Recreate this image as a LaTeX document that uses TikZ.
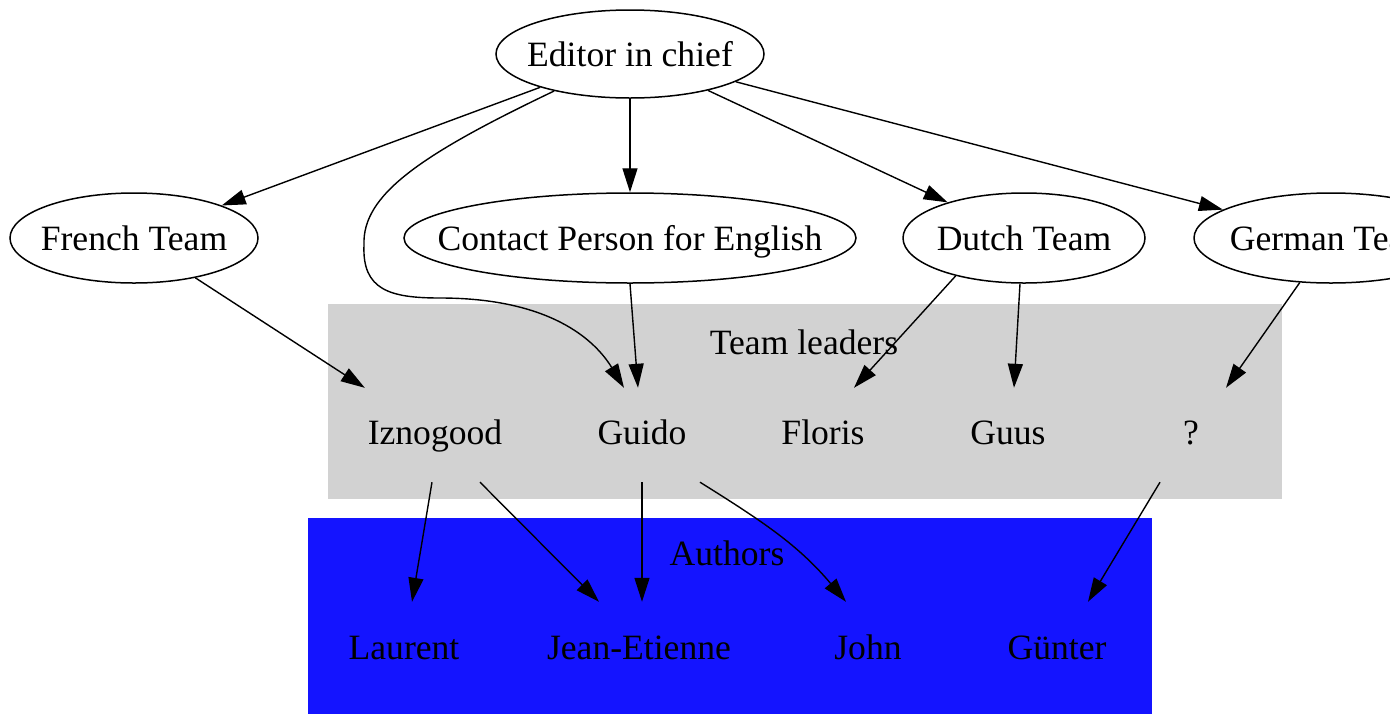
\documentclass[tikz,border=0pt]{standalone}
\usepackage{fontspec}
\setmainfont{Liberation Serif}
\usetikzlibrary{arrows.meta,shapes.geometric}
\def\tn#1{\makebox[0pt]{#1}}
\tikzset{
	team/.style={draw, ellipse, line width=1.5pt, inner sep=0pt, text height=24pt, text depth=0pt},
	member/.style={inner sep=0pt, minimum height=94pt, text height=24pt, text depth=6pt},
	author/.style={inner sep=0pt, minimum height=96pt, text height=24pt, text depth=6pt},
	edge/.style={line width=1.4pt, -{Triangle[length=24pt, width=15pt]}}
}

\begin{document}
\begin{tikzpicture}[x=1pt, y=-1pt, font=\fontsize{35.6}{40}\selectfont]
			%%%%% START %%%%%
			
			\useasboundingbox (0, 0) rectangle (1390, 713);
			\clip (0, 0) rectangle (1390, 713);
			
			\fill[gray!35] (328, 304) rectangle (1282, 499);
			\fill[blue!92!white] (308, 518) rectangle (1152, 720);
			\node (leaders) at (804, 342) {Team leaders};
			\node (authors) at (727, 553) {Authors};
			
			\node[team, minimum width=268pt, minimum height=88pt] (editor) at (630, 54) {\tn{Editor in chief}};
			\node[team, minimum width=248pt, minimum height=90pt] (french) at (134, 238) {\tn{French Team}};
			\node[team, minimum width=452pt, minimum height=90pt] (contact) at (630, 238) {\tn{Contact Person for English}};
			\node[team, minimum width=242pt, minimum height=90pt] (dutch) at (1024, 238) {\tn{Dutch Team}};
			\node[team, minimum width=274pt, minimum height=90pt] (german) at (1331, 238) {\tn{German Team}};
			
			\node[member, minimum width=140pt] (izno) at (435, 435) {Iznogood};
			\node[member, minimum width=100pt] (guido) at (642, 435) {Guido};
			\node[member, minimum width=100pt] (floris) at (823, 435) {Floris};
			\node[member, minimum width=100pt] (guus) at (1008, 435) {Guus};
			\node[member, minimum width=60pt] (qm) at (1191, 435) {?};
			
			\node[author] (laurent) at (404, 650) {Laurent};
			\node[author] (je) at (639, 650) {Jean-Etienne};
			\node[author] (john) at (868, 650) {John};
			\node[author] (guenter) at (1057, 650) {Günter};
			
			\draw[edge] (editor) -- (french);
			\draw[edge] (editor) -- (contact);
			\draw[edge] (editor) -- (dutch);
			\draw[edge] (editor) -- (german);
			\draw[edge] (editor.206) .. controls (420, 155) and (362, 195) .. (364, 245)
				.. controls (362, 290) and (390, 298) .. (440, 298)
				.. controls (550, 298) and (595, 340) .. ([xshift=-18pt]guido.north);
			
			\draw[edge] (french) -- (izno.north west);
			\draw[edge] (contact.south) -- ([xshift=-4pt]guido.north);
			\draw[edge] (dutch.209) -- ([xshift=31pt]floris.north);
			\draw[edge] ([xshift=-4pt]dutch.south) -- ([xshift=6pt]guus.north);
			\draw[edge] (german) -- ([xshift=35pt]qm.north);
			
			\draw[edge] ([xshift=-3pt]izno.south) -- ([xshift=8pt]laurent.north);
			\draw[edge] ([xshift=45pt]izno.south) -- ([xshift=-40pt]je.north);
			\draw[edge] (guido.south) -- ([xshift=3pt]je.north);
			\draw[edge] ([xshift=58pt]guido.south) to[out=-32, in=130] ([xshift=-22pt]john.north);
			\draw[edge] ([xshift=-31pt]qm.south) -- ([xshift=31pt]guenter.north);
			
			%%%%% END %%%%%
		\end{tikzpicture}
\end{document}
